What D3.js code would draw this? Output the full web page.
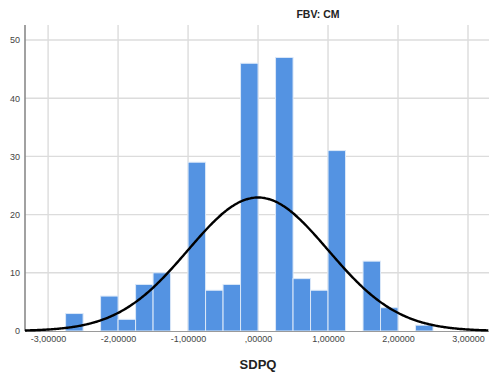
<!DOCTYPE html>
<html>
<head>
<meta charset="utf-8">
<script src="https://cdn.jsdelivr.net/npm/d3@7"></script>
<style>
  html, body { margin: 0; padding: 0; background: #fff; }
  svg { display: block; }
  text { font-family: "Liberation Sans", Arial, sans-serif; }
</style>
</head>
<body>
<svg id="chart" width="489" height="376"></svg>
<script>
// Histogram bins of SDPQ (bin width 0.25) and their frequencies
const binStarts = [-2.75, -2.25, -2.0, -1.75, -1.5, -1.0, -0.75, -0.5, -0.25, 0.25, 0.5, 0.75, 1.0, 1.5, 1.75, 2.25];
const counts    = [3, 6, 2, 8, 10, 29, 7, 8, 46, 47, 9, 7, 31, 12, 4, 1];
const binWidth = 0.25;

// Fitted normal curve parameters
const mean = 0;
const sd = 1;
const n = 230;

// Axis ticks
const xTicks = [-3, -2, -1, 0, 1, 2, 3];
const xTickLabels = ["-3,00000", "-2,00000", "-1,00000", ",00000", "1,00000", "2,00000", "3,00000"];
const yTicks = [0, 10, 20, 30, 40, 50];

const title = "FBV: CM";
const xTitle = "SDPQ";

const svg = d3.select("#chart");
const plotLeft = 25, plotRight = 489, plotTop = 25, plotBottom = 331;

const x = d3.scaleLinear().domain([-3.33, 3.3]).range([plotLeft, plotRight]);
const y = d3.scaleLinear().domain([0, 50]).range([plotBottom, 40]);

// Grid lines
const grid = svg.append("g");
grid.selectAll("line.v").data(xTicks).join("line")
  .attr("class", "v")
  .attr("x1", d => x(d)).attr("x2", d => x(d))
  .attr("y1", plotTop).attr("y2", plotBottom)
  .attr("stroke", "#dcdcdc").attr("stroke-width", 1.4);
grid.selectAll("line.h").data(yTicks.filter(d => d > 0)).join("line")
  .attr("class", "h")
  .attr("x1", plotLeft).attr("x2", plotRight)
  .attr("y1", d => y(d)).attr("y2", d => y(d))
  .attr("stroke", "#dcdcdc").attr("stroke-width", 1.4);

// Bars
svg.append("g").selectAll("rect").data(binStarts.map((s, i) => ({ s, c: counts[i] }))).join("rect")
  .attr("x", d => x(d.s))
  .attr("width", d => x(d.s + binWidth) - x(d.s))
  .attr("y", d => y(d.c))
  .attr("height", d => y(0) - y(d.c))
  .attr("fill", "#5493e2")
  .attr("stroke", "#dbe8f8")
  .attr("stroke-width", 1);

// Axes
const xAxis = svg.append("g").attr("transform", `translate(0,${plotBottom})`)
  .call(d3.axisBottom(x).tickValues(xTicks).tickSize(0).tickFormat((d, i) => xTickLabels[i]));
xAxis.select(".domain").attr("stroke", "#9a9a9a").attr("stroke-width", 1.2);
xAxis.selectAll("text").attr("font-size", 9).attr("fill", "#444").attr("dy", "0.85em")
  .attr("font-family", "'Liberation Sans', Arial, sans-serif");

const yAxis = svg.append("g").attr("transform", `translate(${plotLeft},0)`)
  .call(d3.axisLeft(y).tickValues(yTicks).tickSize(0).tickPadding(5));
yAxis.select(".domain").attr("d", `M0,${plotTop}V${plotBottom}`).attr("stroke", "#8a8a8a").attr("stroke-width", 1.6);
yAxis.selectAll("text").attr("font-size", 9).attr("fill", "#444")
  .attr("font-family", "'Liberation Sans', Arial, sans-serif");

// Normal curve
const pdf = v => Math.exp(-0.5 * ((v - mean) / sd) ** 2) / (sd * Math.sqrt(2 * Math.PI));
const xs = d3.range(x.domain()[0], x.domain()[1] + 0.001, 0.02);
svg.append("path")
  .datum(xs)
  .attr("fill", "none")
  .attr("stroke", "#000")
  .attr("stroke-width", 2.4)
  .attr("d", d3.line().x(v => x(v)).y(v => y(n * binWidth * pdf(v))).curve(d3.curveBasis));

// Titles
svg.append("text").attr("x", 318).attr("y", 18).attr("text-anchor", "middle")
  .attr("font-size", 10.5).attr("font-weight", "bold").attr("fill", "#222").text(title);
svg.append("text").attr("x", 258).attr("y", 369).attr("text-anchor", "middle")
  .attr("font-size", 13).attr("font-weight", "bold").attr("fill", "#222").text(xTitle);
</script>
</body>
</html>
